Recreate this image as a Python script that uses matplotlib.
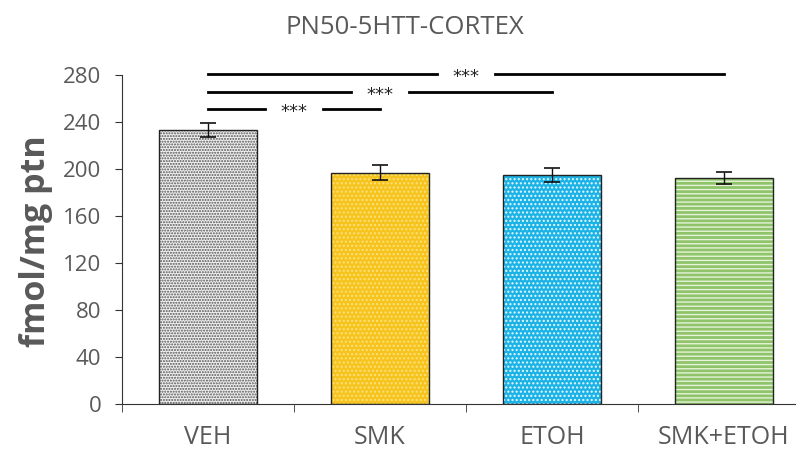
import matplotlib.pyplot as plt

plt.rcParams['font.family'] = ['Open Sans', 'DejaVu Sans']

groups = ["VEH", "SMK", "ETOH", "SMK+ETOH"]
means = [233, 197, 195, 192.5]
errors = [6, 6.5, 6, 5]
face_colors = ["#f0f0f0", "#f6c41c", "#1bb3e6", "#8fc46a"]
hatch_colors = ["#555555", "#fbe07e", "#e8f8ff", "#e6f3d8"]
hatches = ["......", "....", "....", "----"]

# significance brackets: (from group, to group, y value)
sig_pairs = [(0, 3, 281), (0, 2, 265.5), (0, 1, 251)]
sig_label = "***"

yticks = [0, 40, 80, 120, 160, 200, 240, 280]


def main():
    fig = plt.figure(figsize=(7.96, 4.54), dpi=100)
    ax = fig.add_axes([0.1533, 0.1101, 0.8643, 0.7247])

    x = list(range(len(groups)))
    plt.rcParams['hatch.linewidth'] = 1.0
    for i in x:
        ax.bar(i, means[i], width=0.57, color=face_colors[i],
               hatch=hatches[i], edgecolor=hatch_colors[i], linewidth=0,
               zorder=2)
    ax.bar(x, means, width=0.57, fill=False, edgecolor="#222222",
           linewidth=1.0, zorder=3)
    ax.errorbar(x, means, yerr=errors, fmt="none", ecolor="#111111",
                elinewidth=1.0, capsize=6, capthick=1.2, zorder=4)

    gap = 0.17
    for a, b, y in sig_pairs:
        mid = (a + b) / 2
        ax.plot([a, mid - gap], [y, y], color="black", linewidth=2,
                clip_on=False, zorder=5)
        ax.plot([mid + gap, b], [y, y], color="black", linewidth=2,
                clip_on=False, zorder=5)
        ax.text(mid, y - 2.5, sig_label, ha="center", va="center",
                fontsize=13, color="#222222", family="DejaVu Sans",
                clip_on=False, zorder=6)

    ax.set_xlim(-0.5, 3.5)
    ax.set_ylim(0, 280)
    ax.set_yticks(yticks)
    ax.set_xticks(x)
    ax.set_xticklabels(groups)
    ax.set_xticks([-0.5, 0.5, 1.5, 2.5, 3.5], minor=True)
    ax.tick_params(axis="x", which="major", length=0, pad=15,
                   labelsize=18, labelcolor="#595959")
    ax.tick_params(axis="x", which="minor", length=6, color="#333333")
    ax.tick_params(axis="y", length=5, color="#333333", pad=10,
                   labelsize=16, labelcolor="#595959")

    for side in ["top", "right"]:
        ax.spines[side].set_visible(False)
    ax.spines["left"].set_color("#333333")
    ax.spines["bottom"].set_color("#333333")

    ax.set_ylabel("fmol/mg ptn", fontsize=24.5, fontweight="bold",
                  color="#595959", va="center")
    ax.yaxis.set_label_coords(-0.125, 0.495)
    fig.text(0.509, 0.94, "PN50-5HTT-CORTEX", ha="center", va="center",
             fontsize=18.5, color="#595959")

    fig.savefig("out.png", dpi=100)


if __name__ == "__main__":
    main()
